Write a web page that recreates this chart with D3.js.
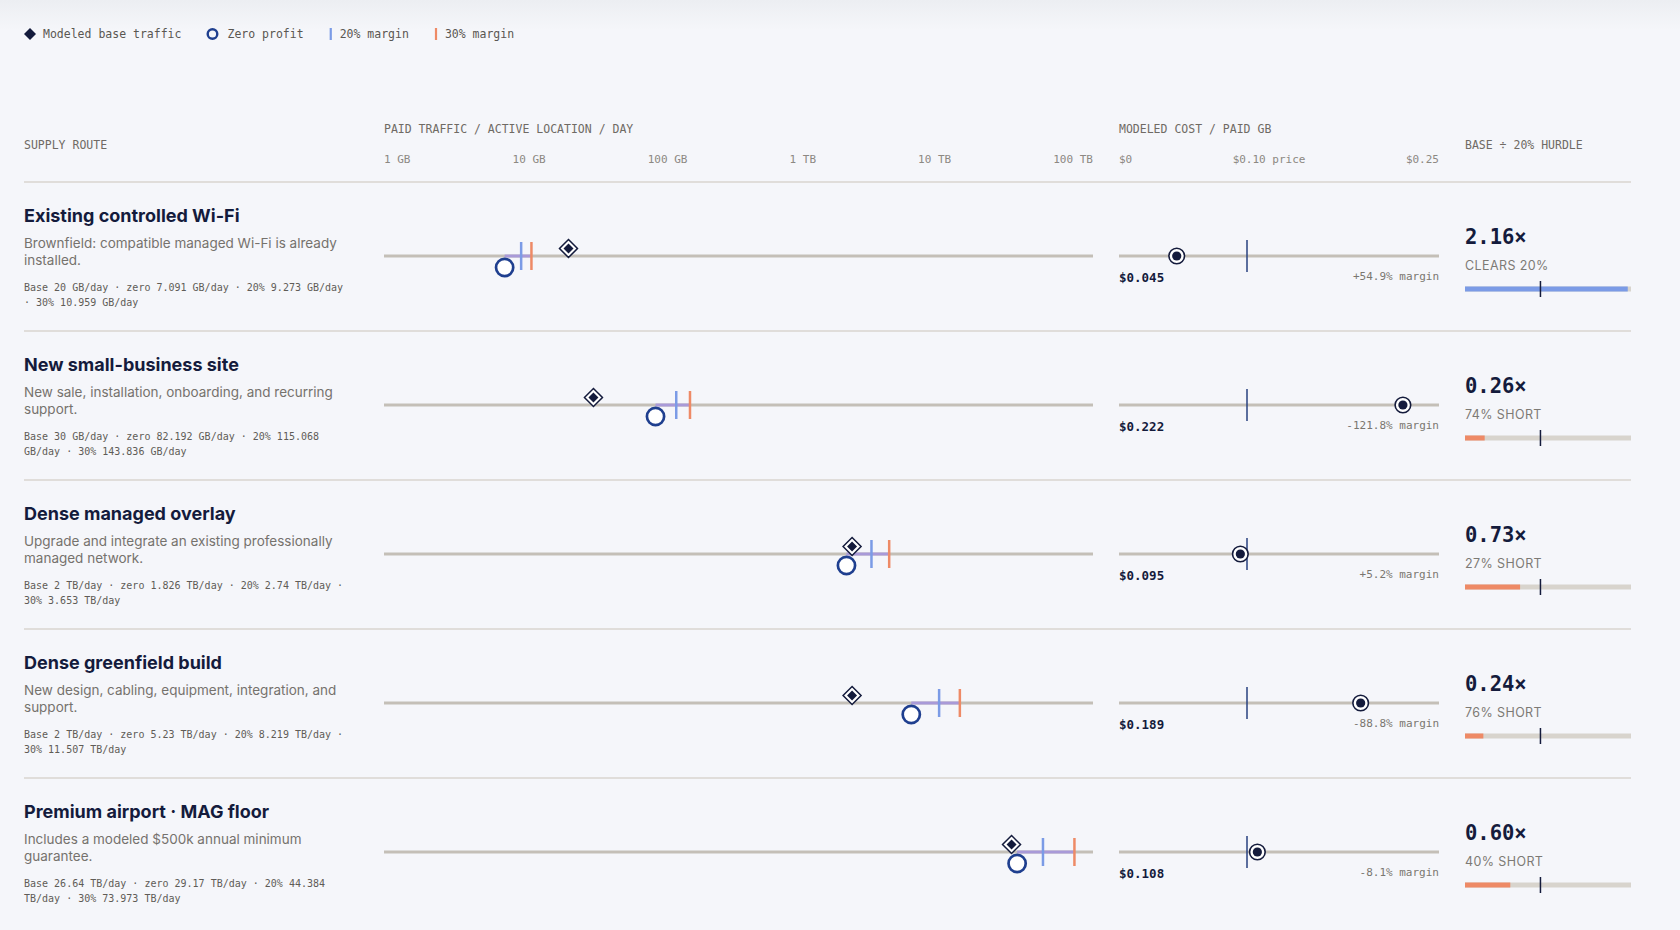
<!DOCTYPE html>
<html>
<head>
<meta charset="utf-8">
<script src="https://cdn.jsdelivr.net/npm/d3@7"></script>
<style>
  body { margin: 0; background: #f5f6fa; }
  svg { display: block; }
</style>
</head>
<body>
<div class="vis-hurdle"></div>
<script>
const routes = [
  "Existing controlled Wi-Fi",
  "New small-business site",
  "Dense managed overlay",
  "Dense greenfield build",
  "Premium airport · MAG floor",
];
const descriptions = [
  "Brownfield: compatible managed Wi-Fi is already installed.",
  "New sale, installation, onboarding, and recurring support.",
  "Upgrade and integrate an existing professionally managed network.",
  "New design, cabling, equipment, integration, and support.",
  "Includes a modeled $500k annual minimum guarantee.",
];
// GB per day
const baseGB = [20, 30, 2000, 2000, 26640];
const zeroGB = [7.091, 82.192, 1826, 5230, 29170];
const m20GB = [9.273, 115.068, 2740, 8219, 44384];
const m30GB = [10.959, 143.836, 3653, 11507, 73973];
// $ per paid GB
const costPerGB = [0.0451, 0.2218, 0.0948, 0.1888, 0.1081];
const price = 0.1;
const trafficTicks = ["1 GB", "10 GB", "100 GB", "1 TB", "10 TB", "100 TB"];
const costTicks = ["$0", "$0.10 price", "$0.25"];
const legendItems = ["Modeled base traffic", "Zero profit", "20% margin", "30% margin"];

const width = 1680;
const height = 930;
const MONO = "'DejaVu Sans Mono', 'Liberation Mono', monospace";
const SANS = "Inter, 'Noto Sans', sans-serif";
const navy = "#141b3c";
const ring = "#1f3f8f";
const blue = "#7b9be6";
const orange = "#ee8a66";
const trackCol = "#c4bfb7";

const svg = d3
  .select(".vis-hurdle")
  .append("svg")
  .attr("width", width)
  .attr("height", height);

// soft top shading
const grad = svg.append("defs").append("linearGradient")
  .attr("id", "topfade").attr("x1", 0).attr("x2", 0).attr("y1", 0).attr("y2", 1);
grad.append("stop").attr("offset", 0).attr("stop-color", "#eceef2");
grad.append("stop").attr("offset", 1).attr("stop-color", "#f5f6fa");
svg.append("rect").attr("width", width).attr("height", height).attr("fill", "#f5f6fa");
svg.append("rect").attr("width", width).attr("height", 30).attr("fill", "url(#topfade)");

const x = d3.scaleLog().domain([1, 100000]).range([384, 1093]);
const c = d3.scaleLinear().domain([0, 0.25]).range([1119, 1439]);
const h = d3.scaleLinear().domain([0, 2.2]).range([1465, 1631]).clamp(true);

const fmt = d3.format(".3~f");
const unit = (gb) => (gb >= 1000 ? fmt(gb / 1000) + " TB/day" : fmt(gb) + " GB/day");

function diamond(g, cx, cy, r) {
  g.append("path")
    .attr("d", `M${cx},${cy - r}L${cx + r},${cy}L${cx},${cy + r}L${cx - r},${cy}Z`)
    .attr("fill", "#fff")
    .attr("stroke", navy)
    .attr("stroke-width", 1.5);
  g.append("path")
    .attr("d", `M${cx},${cy - r + 4}L${cx + r - 4},${cy}L${cx},${cy + r - 4}L${cx - r + 4},${cy}Z`)
    .attr("fill", navy);
}

// legend
let lx = 24;
const legend = svg.append("g").attr("font-family", MONO).attr("font-size", 11.5).attr("fill", "#5a5752");
legendItems.forEach((label, i) => {
  if (i === 0) {
    legend.append("path")
      .attr("d", `M${lx + 6},28L${lx + 12},34L${lx + 6},40L${lx},34Z`)
      .attr("fill", navy);
    lx += 19;
  } else if (i === 1) {
    legend.append("circle").attr("cx", lx + 5).attr("cy", 34).attr("r", 4.8)
      .attr("fill", "none").attr("stroke", ring).attr("stroke-width", 2.4);
    lx += 20;
  } else {
    legend.append("rect").attr("x", lx).attr("y", 28).attr("width", 2.2).attr("height", 12)
      .attr("fill", i === 2 ? blue : orange);
    lx += 10;
  }
  const t = legend.append("text").attr("x", lx).attr("y", 34).attr("dominant-baseline", "central").text(label);
  lx += t.node().getComputedTextLength() + 26;
});

// header
const head = svg.append("g").attr("font-family", MONO);
head.append("text").attr("x", 24).attr("y", 145).text("SUPPLY ROUTE");
head.append("text").attr("x", 384).attr("y", 129).text("PAID TRAFFIC / ACTIVE LOCATION / DAY");
head.append("text").attr("x", 1119).attr("y", 129).text("MODELED COST / PAID GB");
head.append("text").attr("x", 1465).attr("y", 145).text("BASE ÷ 20% HURDLE");
head.selectAll("text")
  .attr("font-size", 11.5)
  .attr("fill", "#6f6a64")
  .attr("dominant-baseline", "central");

// tick labels spread edge to edge across each track
function spread(labels, x0, x1, y) {
  const ts = labels.map((l) =>
    head.append("text").attr("y", y).attr("font-size", 11).attr("fill", "#8c8882")
      .attr("dominant-baseline", "central").text(l)
  );
  const ws = ts.map((t) => t.node().getComputedTextLength());
  const gap = (x1 - x0 - d3.sum(ws)) / (labels.length - 1);
  let cx = x0;
  ts.forEach((t, i) => {
    t.attr("x", cx);
    cx += ws[i] + gap;
  });
}
spread(trafficTicks, x.range()[0], x.range()[1], 159);
spread(costTicks, c.range()[0], c.range()[1], 159);

svg.append("line").attr("x1", 24).attr("x2", 1631).attr("y1", 182).attr("y2", 182)
  .attr("stroke", "#d9d5cf").attr("stroke-width", 1.5);

// wrap text into lines of max width
function wrap(g, str, x0, y0, lh, maxW, attrs) {
  const words = str.split(" ");
  let line = [];
  let y = y0;
  let t = g.append("text").attr("x", x0).attr("y", y);
  attrs(t);
  words.forEach((w) => {
    line.push(w);
    t.text(line.join(" "));
    if (t.node().getComputedTextLength() > maxW && line.length > 1) {
      line.pop();
      t.text(line.join(" "));
      line = [w];
      y += lh;
      t = g.append("text").attr("x", x0).attr("y", y).text(w);
      attrs(t);
    }
  });
}

routes.forEach((name, i) => {
  const top = 182 + i * 149;
  const g = svg.append("g").attr("transform", `translate(0, ${top})`);
  const ty = 74;

  g.append("text").attr("x", 24).attr("y", 33).attr("dominant-baseline", "central")
    .attr("font-family", SANS).attr("font-weight", 700).attr("font-size", 18)
    .attr("fill", navy).text(name);

  wrap(g, descriptions[i], 24, 61, 17, 336, (t) =>
    t.attr("font-family", SANS).attr("font-size", 13.5).attr("fill", "#75726d")
      .attr("dominant-baseline", "central"));

  const meta = `Base ${unit(baseGB[i])} · zero ${unit(zeroGB[i])} · 20% ${unit(m20GB[i])} · 30% ${unit(m30GB[i])}`;
  wrap(g, meta, 24, 105, 15, 322, (t) =>
    t.attr("font-family", MONO).attr("font-size", 10).attr("fill", "#5f5c57")
      .attr("dominant-baseline", "central"));

  // traffic track
  g.append("line").attr("x1", x.range()[0]).attr("x2", x.range()[1]).attr("y1", ty).attr("y2", ty)
    .attr("stroke", trackCol).attr("stroke-width", 3);
  g.append("line").attr("x1", x(zeroGB[i])).attr("x2", x(m30GB[i])).attr("y1", ty).attr("y2", ty)
    .attr("stroke", "#a99ad8").attr("stroke-width", 3);
  g.append("line").attr("x1", x(m20GB[i])).attr("x2", x(m20GB[i])).attr("y1", ty - 14).attr("y2", ty + 14)
    .attr("stroke", blue).attr("stroke-width", 2.5);
  g.append("line").attr("x1", x(m30GB[i])).attr("x2", x(m30GB[i])).attr("y1", ty - 14).attr("y2", ty + 14)
    .attr("stroke", orange).attr("stroke-width", 2.5);
  g.append("circle").attr("cx", x(zeroGB[i])).attr("cy", ty + 11.5).attr("r", 8.6)
    .attr("fill", "#fff").attr("stroke", ring).attr("stroke-width", 2.7);
  diamond(g, x(baseGB[i]), ty - 7.5, 9);

  // cost track
  g.append("line").attr("x1", c.range()[0]).attr("x2", c.range()[1]).attr("y1", ty).attr("y2", ty)
    .attr("stroke", trackCol).attr("stroke-width", 3);
  g.append("line").attr("x1", c(price)).attr("x2", c(price)).attr("y1", ty - 16).attr("y2", ty + 16)
    .attr("stroke", "#27407f").attr("stroke-width", 1.5);
  g.append("circle").attr("cx", c(costPerGB[i])).attr("cy", ty).attr("r", 7.8)
    .attr("fill", "#fff").attr("stroke", navy).attr("stroke-width", 1.6);
  g.append("circle").attr("cx", c(costPerGB[i])).attr("cy", ty).attr("r", 4.6).attr("fill", navy);
  g.append("text").attr("x", c.range()[0]).attr("y", 95.5).attr("dominant-baseline", "central")
    .attr("font-family", MONO).attr("font-weight", 700).attr("font-size", 12.5).attr("fill", navy)
    .text("$" + costPerGB[i].toFixed(3));
  const margin = ((price - costPerGB[i]) / price) * 100;
  g.append("text").attr("x", c.range()[1]).attr("y", 94.5).attr("dominant-baseline", "central")
    .attr("text-anchor", "end").attr("font-family", MONO).attr("font-size", 11).attr("fill", "#7a7670")
    .text((margin >= 0 ? "+" : "") + margin.toFixed(1) + "% margin");

  // hurdle
  const ratio = baseGB[i] / m20GB[i];
  const clears = ratio >= 1;
  g.append("text").attr("x", h.range()[0]).attr("y", 55).attr("dominant-baseline", "central")
    .attr("font-family", MONO).attr("font-weight", 700).attr("font-size", 20.5).attr("fill", navy)
    .text(ratio.toFixed(2) + "×");
  g.append("text").attr("x", h.range()[0]).attr("y", 83).attr("dominant-baseline", "central")
    .attr("font-family", SANS).attr("font-size", 12.5).attr("letter-spacing", 0.4).attr("fill", "#7d7a75")
    .text(clears ? "CLEARS 20%" : Math.round((1 - ratio) * 100) + "% SHORT");
  g.append("rect").attr("x", h.range()[0]).attr("y", 104.5).attr("width", h.range()[1] - h.range()[0])
    .attr("height", 5).attr("fill", "#d8d4cd");
  g.append("rect").attr("x", h.range()[0]).attr("y", 104.5).attr("width", h(ratio) - h.range()[0])
    .attr("height", 5).attr("fill", clears ? blue : orange);
  g.append("line").attr("x1", h(1)).attr("x2", h(1)).attr("y1", 99).attr("y2", 115)
    .attr("stroke", navy).attr("stroke-width", 1.5);

  if (i < routes.length - 1) {
    g.append("line").attr("x1", 24).attr("x2", 1631).attr("y1", 149).attr("y2", 149)
      .attr("stroke", "#d9d5cf").attr("stroke-width", 1.5);
  }
});
</script>
</body>
</html>
